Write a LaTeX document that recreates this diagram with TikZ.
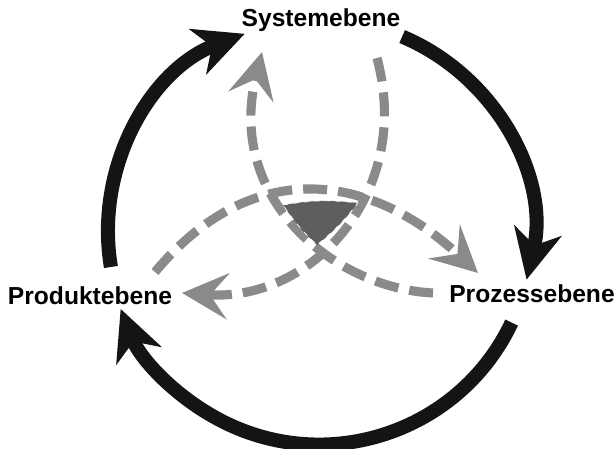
\documentclass[tikz,border=0pt]{standalone}
\usepackage{fontspec}
\setmainfont{Liberation Sans}
\usetikzlibrary{arrows.meta}
\definecolor{ringblack}{HTML}{141414}
\definecolor{flowgray}{HTML}{8A8A8A}
\definecolor{coregray}{HTML}{5E5E5E}

\begin{document}
\begin{tikzpicture}[x=0.02cm,y=0.02cm]
                \tikzstyle{every node}=[font=\bfseries\fontsize{14}{17}\selectfont, inner sep=0pt]
                \tikzstyle{ring}=[line width=8pt, ringblack, -{Stealth[length=1.0cm,width=0.96cm,inset=0.3cm]}]
                \tikzstyle{flow}=[line width=5.2pt, flowgray, dash pattern=on 0.48cm off 0.22cm, -{Stealth[length=0.92cm,width=0.92cm,inset=0.36cm]}]
                \useasboundingbox (0,0) rectangle (616,449);

                \node[anchor=base] (sys) at (321,422) {Systemebene};
                \node[anchor=base] (prod) at (90,144) {Produktebene};
                \node[anchor=base] (proz) at (532,146) {Prozessebene};

                % outer ring
                \coordinate (c) at (320,217);
                \coordinate (l0) at ([shift={(189.5:212)}]c);
                \coordinate (r0) at ([shift={(67.2:212)}]c);
                \coordinate (b0) at ([shift={(-25.3:212)}]c);
                \draw[ring] (l0) arc[start angle=189.5, end angle=110.8, radius=212];
                \draw[ring] (r0) arc[start angle=67.2, end angle=-13, radius=212];
                \draw[ring] (b0) arc[start angle=-25.3, end angle=-158.7, radius=213];

                % inner dashed loops
                \coordinate (a0) at (433,156);
                \coordinate (a1) at (262,397);
                \coordinate (s0) at (377,391);
                \coordinate (s1) at (182,156);
                \coordinate (p0) at (155,177);
                \coordinate (p1) at (478,176);
                \draw[flow] (a0) .. controls (333,161) and (226,251) .. (a1);
                \draw[flow] (s0) .. controls (413,256) and (312,147) .. (s1);
                \draw[flow] (p0) .. controls (251,292) and (368,278) .. (p1);

                \filldraw[fill=coregray, draw=white, dashed, thin] (283,244) to[bend left=8] (358,246) to[bend left=6] (317,204) to[bend left=6] (283,244) -- cycle;
            \end{tikzpicture}
\end{document}
